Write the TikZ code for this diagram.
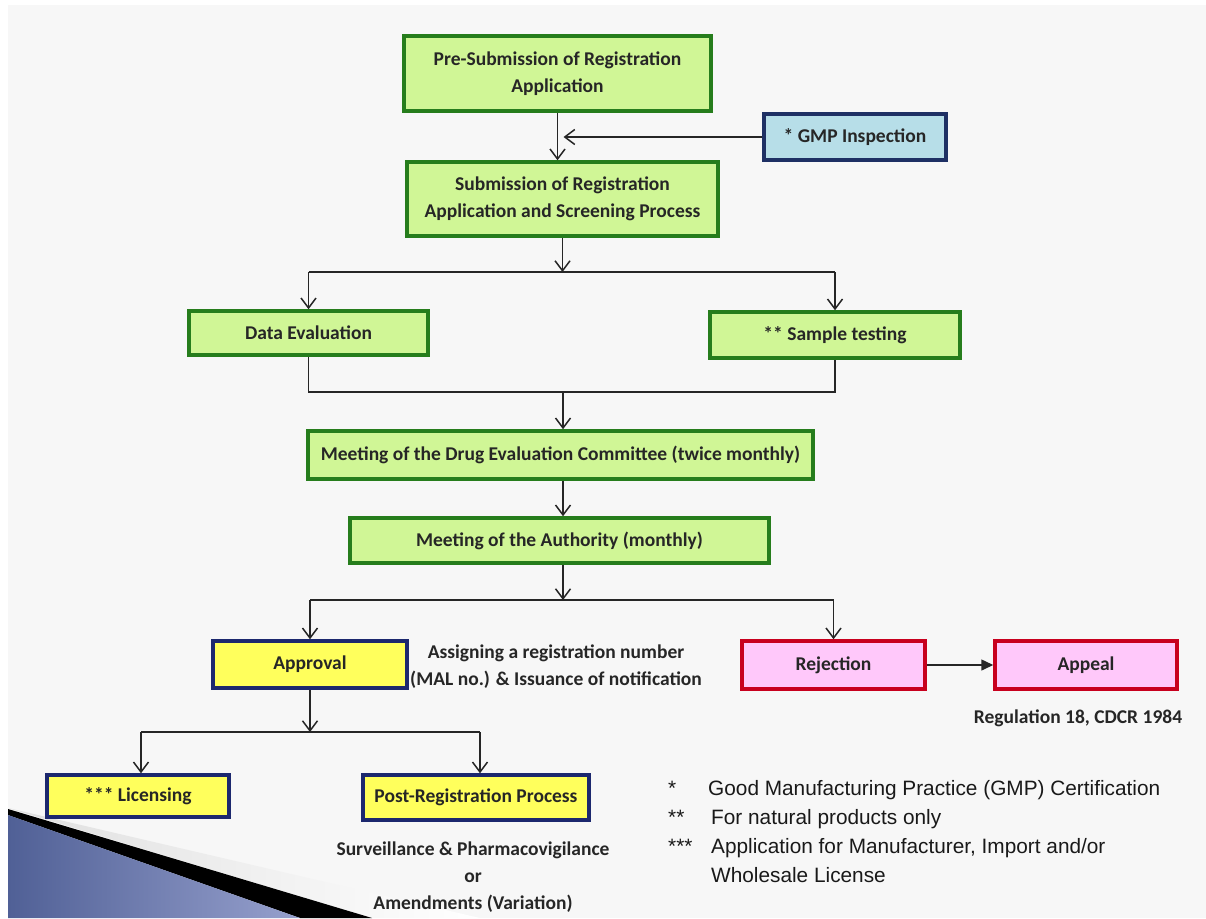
\documentclass[tikz,border=0pt]{standalone}
\usepackage{fontspec}
\setmainfont{Carlito}
\newfontfamily\arialfont{Liberation Sans}
\usetikzlibrary{arrows.meta,shadows}
\definecolor{gfill}{RGB}{208,246,150}
\definecolor{gline}{RGB}{38,125,28}
\definecolor{bfill}{RGB}{183,222,232}
\definecolor{bline}{RGB}{30,48,100}
\definecolor{yfill}{RGB}{255,255,92}
\definecolor{yline}{RGB}{28,40,110}
\definecolor{pfill}{RGB}{255,200,250}
\definecolor{pline}{RGB}{200,0,30}
\definecolor{bg}{RGB}{247,247,247}
\definecolor{deco1}{RGB}{80,96,150}
\definecolor{deco2}{RGB}{150,160,205}
\begin{document}
\begin{tikzpicture}[x=1pt,y=-1pt,
  box/.style={draw, line width=3.5pt, inner sep=2pt, align=center,
    font=\bfseries\fontsize{19.5}{27}\selectfont, text=black!85,
    drop shadow={opacity=0.25, shadow xshift=2pt, shadow yshift=-2pt}},
  gbox/.style={box, fill=gfill, draw=gline},
  bbox/.style={box, fill=bfill, draw=bline},
  ybox/.style={box, fill=yfill, draw=yline},
  pbox/.style={box, fill=pfill, draw=pline},
  conn/.style={line width=1.5pt, draw=black!85},
  arr/.style={conn, -{Straight Barb[length=10pt,width=15pt]}},
  farr/.style={conn, -{Triangle[length=12pt,width=11pt]}},
  note/.style={align=center, font=\bfseries\fontsize{19.5}{27}\selectfont, text=black!85},
  fn/.style={anchor=base west, font=\arialfont\fontsize{20.8}{29}\selectfont, text=black!90, inner sep=0pt}
]
\useasboundingbox (0,0) rectangle (1206,918);
\fill[white] (0,0) rectangle (1206,918);
\fill[bg] (8,5) rectangle (1206,918);
% decoration bottom-left
\shade[left color=gray!25, right color=white] (8,808) -- (480,918) -- (372,918) -- cycle;
\fill[black] (8,809) -- (372,918) -- (300,918) -- (8,815) -- cycle;
\shade[left color=deco1, right color=deco2] (8,815) -- (300,918) -- (8,918) -- cycle;

% nodes
\node[gbox, minimum width=307pt, minimum height=75pt] (pre) at (557.5,73.5) {Pre-Submission of Registration\\Application};
\node[bbox, minimum width=182pt, minimum height=46pt] (gmp) at (855,137) {* GMP Inspection};
\node[gbox, minimum width=311pt, minimum height=74pt] (sub) at (562.5,199) {Submission of Registration\\Application and Screening Process};
\node[gbox, minimum width=239pt, minimum height=44pt] (data) at (308.5,333) {Data Evaluation};
\node[gbox, minimum width=250pt, minimum height=46pt] (sample) at (835,335) {** Sample testing};
\node[gbox, minimum width=505pt, minimum height=48pt] (dec) at (560.5,455) {Meeting of the Drug Evaluation Committee (twice monthly)};
\node[gbox, minimum width=419pt, minimum height=45pt] (auth) at (559.5,540.5) {Meeting of the Authority (monthly)};
\node[ybox, minimum width=194pt, minimum height=47pt] (appr) at (310,664.5) {Approval};
\node[pbox, minimum width=183pt, minimum height=48pt] (rej) at (833.5,665) {Rejection};
\node[pbox, minimum width=182pt, minimum height=48pt] (appeal) at (1086,665) {Appeal};
\node[ybox, minimum width=182pt, minimum height=42pt] (lic) at (138,796) {*** Licensing};
\node[ybox, minimum width=226pt, minimum height=45pt] (post) at (476,797.5) {Post-Registration Process};

% texts
\node[note] (assign) at (556,667) {Assigning a registration number\\(MAL no.) \& Issuance of notification};
\node[note] (reg) at (1078,718) {Regulation 18, CDCR 1984};
\node[note] (surv) at (473,877) {Surveillance \& Pharmacovigilance\\or\\Amendments (Variation)};

% footnotes
\node[fn] (m1) at (668,795) {*};
\node[fn] (t1) at (708,795) {Good Manufacturing Practice (GMP) Certification};
\node[fn] (m2) at (668,824) {**};
\node[fn] (t2) at (711,824) {For natural products only};
\node[fn] (m3) at (668,853) {***};
\node[fn] (t3) at (711,853) {Application for Manufacturer, Import and/or};
\node[fn] (t4) at (711,882) {Wholesale License};

% junction coordinates
\coordinate (j1) at (560,272);
\coordinate (j2) at (563,392);
\coordinate (j3) at (563,600);
\coordinate (j4) at (307,732);

% connectors
\draw[arr] (pre.south) -- (pre.south |- sub.north);
\draw[arr] (gmp.west) -- ([xshift=6pt]pre.south |- gmp.west);
\draw[arr] (sub.south) -- (sub.south |- j1);
\draw[conn] (data.north |- j1) -- (sample.north |- j1);
\draw[arr] (data.north |- j1) -- (data.north);
\draw[arr] (sample.north |- j1) -- (sample.north);
\draw[conn] (data.south) -- (data.south |- j2) -- (sample.south |- j2) -- (sample.south);
\draw[arr] (j2) -- (j2 |- dec.north);
\draw[arr] (dec.south -| j2) -- (j2 |- auth.north);
\draw[arr] (auth.south -| j3) -- (j3);
\draw[conn] (appr.north |- j3) -- (rej.north |- j3);
\draw[arr] (appr.north |- j3) -- (appr.north);
\draw[arr] (rej.north |- j3) -- (rej.north);
\draw[farr] (rej.east) -- (appeal.west);
\draw[arr] (appr.south) -- (appr.south |- j4);
\draw[conn] ([xshift=3pt]lic.north |- j4) -- ([xshift=4pt]post.north |- j4);
\draw[arr] ([xshift=3pt]lic.north |- j4) -- ([xshift=3pt]lic.north);
\draw[arr] ([xshift=4pt]post.north |- j4) -- ([xshift=4pt]post.north);
\end{tikzpicture}
\end{document}
